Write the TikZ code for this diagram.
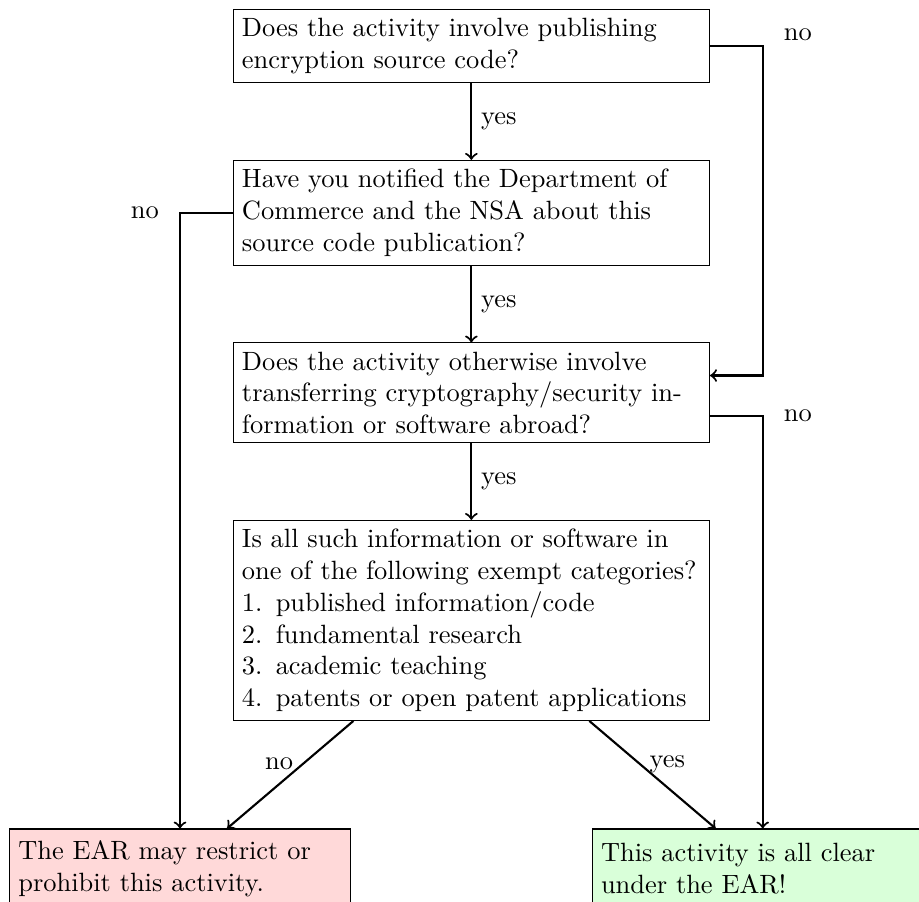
\documentclass[tikz,border=0pt]{standalone}
\usetikzlibrary{positioning,calc}

\begin{document}
\begin{tikzpicture}[
  node distance=10.2mm,
  box/.style={draw, align=left, text width=6.1cm},
  endbox/.style={draw, align=left, text width=4.3cm, minimum height=30pt},
  nobox/.style={endbox, fill=red!15},
  okbox/.style={endbox, fill=green!15},
  flow/.style={->, thick},
]
  \node[box] (q1) {Does the activity involve publishing encryption source code?};
  \node[box, below=of q1] (q2) {Have you notified the Department of Commerce and the NSA about this source code publication?};
  \node[box, below=of q2] (q3) {Does the activity otherwise involve transferring cryptography/security information or software abroad?};
  \node[box, below=of q3] (q4) {Is all such information or software in one of the following exempt categories?\\
    1.\enskip published information/code\\
    2.\enskip fundamental research\\
    3.\enskip academic teaching\\
    4.\enskip patents or open patent applications};
  % side columns for the "no" branches
  \coordinate[left=7mm of q2.west] (lcol);
  \coordinate[right=7mm of q1.east] (rcol);
  \coordinate (lfoot) at (lcol |- q4.south);
  \coordinate (rfoot) at (rcol |- q4.south);
  \coordinate (q3in) at ([yshift=2.3mm]q3.east);
  \coordinate (q3out) at ([yshift=-3.1mm]q3.east);
  \node[nobox, below=14.3mm of lfoot] (bad) {The EAR may restrict or prohibit this activity.};
  \node[okbox, below=14.3mm of rfoot] (clear) {This activity is all clear under the EAR!};
  \draw[flow] (q1) -- node[right] {yes} (q2);
  \draw[flow] (q2) -- node[right] {yes} (q3);
  \draw[flow] (q3) -- node[right] {yes} (q4);
  \draw[flow] (q1.east) -| node[pos=0.5, right=1.5mm, yshift=1.5mm] {no} (rcol |- q3in) -- (q3in);
  \draw[flow] (q2.west) -| node[pos=0.5, left=1.5mm] {no} (bad);
  \draw[flow] (q3out) -| node[pos=0.5, right=1.5mm] {no} (clear);
  \draw[flow] (q4) -- node[pos=0.4, left] {no} (bad);
  \draw[flow] (q4) -- node[pos=0.4, right] {yes} (clear);
  \pgfresetboundingbox
  \path[use as bounding box] ($(bad.west |- q1.north)+(-3.4pt,3.4pt)$) rectangle ++(347.7pt,-340.9pt);
\end{tikzpicture}
\end{document}
